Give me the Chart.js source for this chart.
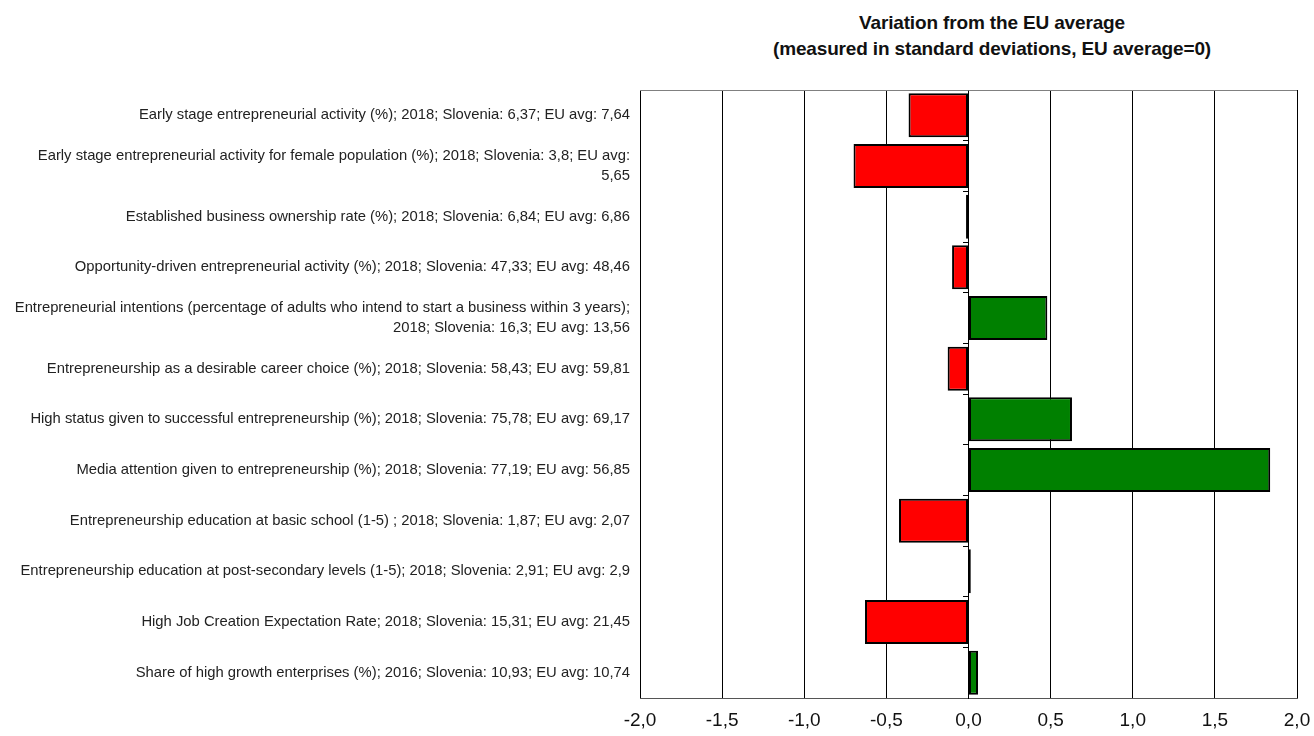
<!DOCTYPE html>
<html>
<head>
<meta charset="utf-8">
<script src="https://cdn.jsdelivr.net/npm/chart.js@4.4.1/dist/chart.umd.min.js"></script>
<style>
    html, body { margin: 0; padding: 0; background: #fff; }
    .wrapper { position: relative; width: 1314px; height: 736px; }
    #title {
        position: absolute; left: 742px; width: 500px; top: 10px;
        text-align: center; font-family: 'Liberation Sans', Arial, sans-serif;
        font-weight: bold; font-size: 19px; line-height: 26px; color: #111;
        letter-spacing: -0.15px;
    }
    #chart { position: absolute; left: 0; top: 0; }
</style>
</head>
<body>
<div class="wrapper">
    <div id="title">Variation from the EU average<br>(measured in standard deviations, EU average=0)</div>
    <canvas id="chart" width="1314" height="736"></canvas>
</div>
<script>
// ====== DONNEES ======
const categories = [
    'Early stage entrepreneurial activity (%); 2018; Slovenia: 6,37; EU avg: 7,64',
    ['Early stage entrepreneurial activity for female population (%); 2018; Slovenia: 3,8; EU avg:', '5,65'],
    'Established business ownership rate (%); 2018; Slovenia: 6,84; EU avg: 6,86',
    'Opportunity-driven entrepreneurial activity (%); 2018; Slovenia: 47,33; EU avg: 48,46',
    ['Entrepreneurial intentions (percentage of adults who intend to start a business within 3 years);', '2018; Slovenia: 16,3; EU avg: 13,56'],
    'Entrepreneurship as a desirable career choice (%); 2018; Slovenia: 58,43; EU avg: 59,81',
    'High status given to successful entrepreneurship (%); 2018; Slovenia: 75,78; EU avg: 69,17',
    'Media attention given to entrepreneurship (%); 2018; Slovenia: 77,19; EU avg: 56,85',
    'Entrepreneurship education at basic school (1-5) ; 2018; Slovenia: 1,87; EU avg: 2,07',
    'Entrepreneurship education at post-secondary levels (1-5); 2018; Slovenia: 2,91; EU avg: 2,9',
    'High Job Creation Expectation Rate; 2018; Slovenia: 15,31; EU avg: 21,45',
    'Share of high growth enterprises (%); 2016; Slovenia: 10,93; EU avg: 10,74'
];

const deviations = [-0.365, -0.70, -0.015, -0.10, 0.48, -0.127, 0.63, 1.837, -0.423, 0.014, -0.63, 0.058];

const xMin = -2;
const xMax = 2;
const xStep = 0.5;

// ==================================

const FONT = "'Liberation Sans', Arial, sans-serif";

// ligne grise en haut de la zone du graphe
const frame = {
    id: 'frame',
    beforeDatasetsDraw(chart) {
        const { ctx, chartArea: a } = chart;
        ctx.save();
        ctx.strokeStyle = '#808080';
        ctx.lineWidth = 1;
        ctx.beginPath();
        ctx.moveTo(a.left, a.top + 0.5);
        ctx.lineTo(a.right, a.top + 0.5);
        ctx.stroke();
        ctx.restore();
    }
};

const config = {
    type: 'bar',
    data: {
        labels: categories,
        datasets: [
            {
                data: deviations,
                backgroundColor: deviations.map(v => v < 0 ? '#FF0000' : '#008000'),
                borderColor: '#000',
                borderWidth: 2,
                borderSkipped: false,
                barPercentage: 0.87,
                categoryPercentage: 1
            }
        ]
    },
    options: {
        indexAxis: 'y',
        responsive: false,
        animation: false,
        layout: { padding: { top: 90, right: 17, left: 0, bottom: 0 } },
        plugins: {
            legend: { display: false },
            tooltip: { enabled: false }
        },
        scales: {
            x: {
                type: 'linear',
                min: xMin,
                max: xMax,
                grid: { color: '#000', lineWidth: 1, drawTicks: false },
                border: { display: true, color: '#555', width: 1 },
                afterFit: scale => {
                    scale.height = 38;
                    scale.paddingLeft = 0;
                    scale.paddingRight = 0;
                },
                ticks: {
                    stepSize: xStep,
                    padding: 11,
                    color: '#111',
                    font: { family: FONT, size: 19 },
                    callback: v => v.toFixed(1).replace('.', ',')
                }
            },
            y: {
                type: 'category',
                grid: { display: false },
                border: { display: false },
                afterFit: scale => { scale.width = 640; },
                ticks: {
                    padding: 2,
                    color: '#222',
                    font: { family: FONT, size: 14.8, lineHeight: 1.35 },
                    autoSkip: false
                }
            },
            y2: {
                type: 'category',
                labels: categories,
                position: { x: 0 },
                offset: true,
                grid: { drawOnChartArea: false, offset: true, color: '#000', tickLength: 5, lineWidth: 1 },
                border: { display: true, color: '#000', width: 1 },
                ticks: { display: false }
            }
        }
    },
    plugins: [frame]
};

const chart = new Chart(document.querySelector('#chart'), config);
</script>
</body>
</html>
